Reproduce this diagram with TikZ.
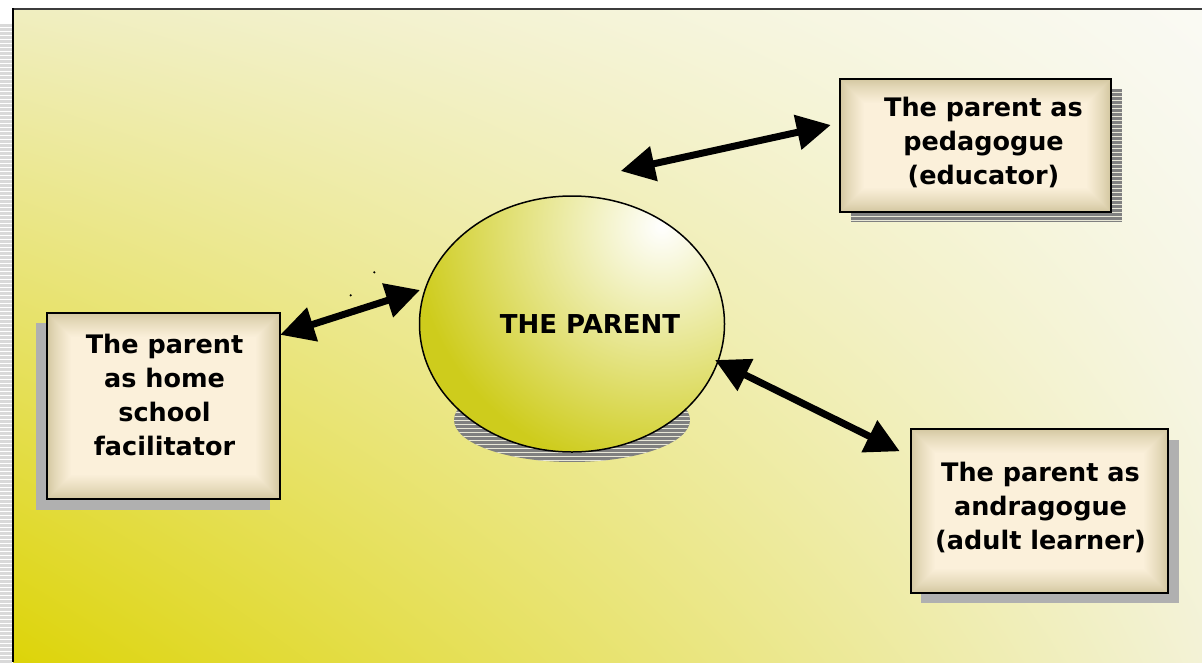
\documentclass[tikz,border=0pt]{standalone}
\usepackage{fontspec}
\setmainfont{DejaVu Sans}
\usetikzlibrary{arrows.meta,shapes.geometric,calc,shadings}
\definecolor{bgUL}{RGB}{240,238,192}
\definecolor{bgUR}{RGB}{250,250,244}
\definecolor{bgLL}{RGB}{221,212,8}
\definecolor{bgLR}{RGB}{243,242,214}
\definecolor{parentYellow}{RGB}{206,204,28}
\definecolor{boxLight}{RGB}{251,240,218}
\definecolor{boxTan}{RGB}{211,199,160}
\definecolor{shadowSolid}{RGB}{176,176,176}
\definecolor{stripeDark}{RGB}{128,128,128}
\definecolor{stripeLight}{RGB}{232,231,215}
\definecolor{frameStripe}{RGB}{217,217,217}
\definecolor{frameTop}{RGB}{60,60,60}
\newcommand\mypillow[1]{%
  \foreach \i in {0,...,24}{%
    \pgfmathtruncatemacro\pct{100*(\i/24)^0.8}%
    \fill[boxLight!\pct!boxTan] ($(#1.north west)+(\i,\i)$) rectangle ($(#1.south east)+(-\i,-\i)$);
  }%
  \draw[line width=2pt, black] (#1.north west) rectangle (#1.south east);%
}
\begin{document}
\begin{tikzpicture}[x=1pt,y=-1pt,
  boxnode/.style={rectangle, inner sep=0pt},
  lbl/.style={font=\fontsize{25.5}{34}\selectfont\bfseries, align=center, inner sep=0pt},
  biarrow/.style={line width=7pt, {Triangle[length=34pt,width=34pt]}-{Triangle[length=34pt,width=34pt]}},
  plainshadow/.style={fill=shadowSolid}
]
\useasboundingbox (0,0) rectangle (1202,662);
\fill[white] (0,0) rectangle (1202,662);
% frame shadow stripes on the left
\foreach \yy in {24,28,...,660} \fill[frameStripe] (0,\yy) rectangle (12,\yy+3);
% background
\shade[upper left=bgUL, upper right=bgUR, lower left=bgLL, lower right=bgLR] (13,8) rectangle (1202,662);
\draw[line width=2pt, frameTop] (1202,8.5) -- (13,8.5);
\draw[line width=2pt, black] (13,8) -- (13,662);

% ellipse shadow (striped)
\begin{scope}
  \clip (572,420) ellipse (118 and 42);
  \fill[stripeDark] (454,378) rectangle (690,462);
  \foreach \yy in {380,384,...,462} \draw[stripeLight, line width=1pt] (454,\yy) -- (690,\yy);
\end{scope}
% ellipse fill
\begin{scope}
  \clip (572,324) ellipse (152.5 and 128);
  \fill[parentYellow] (419,195) rectangle (726,453);
  \shade[inner color=white, outer color=parentYellow] (662,226) circle (250);
\end{scope}
\node[ellipse, draw=black, line width=1.5pt, minimum width=305pt, minimum height=256pt, inner sep=0pt] (P) at (572,324) {};
\node[font=\fontsize{26}{30}\selectfont\bfseries, inner sep=0pt] (Ptxt) at (590,324) {THE PARENT};

% pedagogue box with striped shadow
\begin{scope}
  \clip (851,89) rectangle (1122,222);
  \fill[stripeDark] (851,89) rectangle (1122,222);
  \foreach \yy in {92,96,...,222} \draw[stripeLight, line width=1pt] (851,\yy) -- (1122,\yy);
\end{scope}
\node[boxnode, minimum width=271pt, minimum height=133pt] (E) at (975.5,145.5) {};
\mypillow{E}
\node[lbl] (Etxt) at ($(E.center)+(8,-3)$) {The parent as\\pedagogue\\(educator)};

% home school facilitator box
\fill[plainshadow] (36,323) rectangle (270,510);
\node[boxnode, minimum width=233pt, minimum height=186pt] (L) at (163.5,406) {};
\mypillow{L}
\node[lbl] (Ltxt) at ($(L.center)+(1,-11)$) {The parent\\as home\\school\\facilitator};

% andragogue box
\fill[plainshadow] (921,440) rectangle (1179,603);
\node[boxnode, minimum width=257pt, minimum height=163pt] (R) at (1039.5,511) {};
\mypillow{R}
\node[lbl] (Rtxt) at ($(R.center)+(1,-3.5)$) {The parent as\\andragogue\\(adult learner)};

% arrow ends
\coordinate (eP) at ($(P.center)+(48.7,-153)$);
\coordinate (eE) at ($(E.west)+(-9,-20.5)$);
\coordinate (lP) at ($(P.center)+(-152,-34)$);
\coordinate (lL) at ($(L.north east)+(0,22)$);
\coordinate (rP) at ($(P.center)+(143,36)$);
\coordinate (rR) at ($(R.north west)+(-11,22)$);
\draw[biarrow] (eP) -- (eE);
\draw[biarrow] (lL) -- (lP);
\draw[biarrow] (rP) -- (rR);

% two stray dots
\fill[black] (374.3,272.3) circle (1.2);
\fill[black] (350.7,295.3) circle (1.2);
\end{tikzpicture}
\end{document}
